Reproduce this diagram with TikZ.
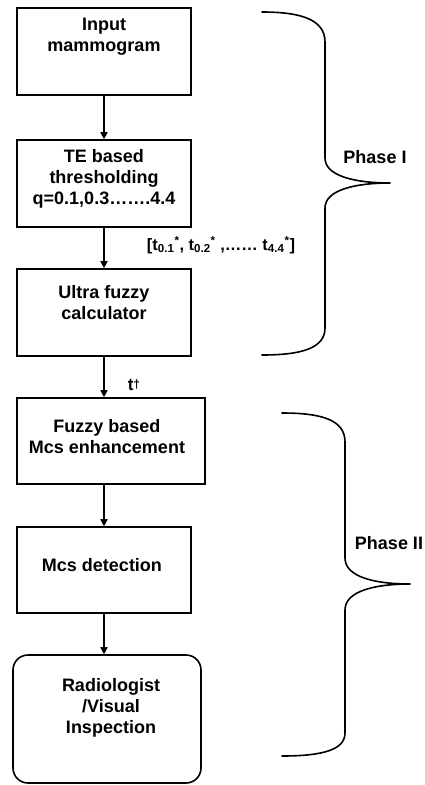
\documentclass[tikz,border=0pt]{standalone}
\usepackage{fontspec}
\setmainfont{Liberation Sans}
\usetikzlibrary{arrows.meta}
\begin{document}
\begin{tikzpicture}[x=1pt,y=-1pt,
  boxshape/.style={draw, line width=1.6pt, minimum width=#1, inner sep=0pt},
  txt/.style={font=\fontsize{18}{21}\selectfont\bfseries, align=center, inner sep=0pt},
  flow/.style={line width=1.6pt, -{Triangle[length=7pt,width=7pt]}},
  bracepath/.style={line width=1.6pt, line cap=round, line join=round}]
\useasboundingbox (0,0) rectangle (424,785);
\fill[white] (0,0) rectangle (424,785);
% boxes
\node[boxshape=174pt, minimum height=87pt] (b1) at (104,51.5) {};
\node[boxshape=174pt, minimum height=87pt] (b2) at (104,183.5) {};
\node[boxshape=174pt, minimum height=87pt] (b3) at (104,312.5) {};
\node[boxshape=188pt, minimum height=86pt] (b4) at (111,441) {};
\node[boxshape=174pt, minimum height=86pt] (b5) at (104,570) {};
\node[boxshape=188pt, minimum height=128pt, rounded corners=15pt] (b6) at (107,719) {};
% texts
\node[txt] (t1) at (104,37) {Input\\mammogram};
\node[txt] (t2) at (104,179) {TE based\\thresholding\\q=0.1,0.3…….4.4};
\node[txt] (t3) at (104,303) {Ultra fuzzy\\calculator};
\node[txt] (t4) at (107,436.5) {Fuzzy based\\Mcs enhancement};
\node[txt] (t5) at (102,565) {Mcs detection};
\node[txt] (t6) at (111,708) {Radiologist\\/Visual\\Inspection};
% arrows
\draw[flow] (b1.south) -- (b2.north);
\draw[flow] (b2.south) -- (b3.north);
\draw[flow] (b3.south) -- (b3.south |- b4.north);
\draw[flow] (b4.south -| b5.north) -- (b5.north);
\draw[flow] (b5.south) -- (b5.south |- b6.north);
% labels
\node[txt, font=\fontsize{16.5}{18}\selectfont\bfseries] (l1) at (221,245) {[t\textsubscript{0.1}\textsuperscript{*}, t\textsubscript{0.2}\textsuperscript{*} ,…… t\textsubscript{4.4}\textsuperscript{*}]};
\node[txt, font=\fontsize{17}{18}\selectfont\bfseries] (l2) at (134,385) {t{\fontsize{12}{12}\selectfont\raisebox{2pt}{†}}};
% braces
\draw[bracepath] (262,12) .. controls (302,12) and (325,20) .. (325,42) -- (325,158)
  .. controls (325,176) and (355,183) .. (390,183)
  .. controls (355,183) and (325,190) .. (325,208) -- (325,328)
  .. controls (325,348) and (302,355) .. (262,355);
\draw[bracepath] (282,413) .. controls (322,413) and (345,420) .. (345,442) -- (345,558)
  .. controls (345,577) and (375,584) .. (410,584)
  .. controls (375,584) and (345,591) .. (345,610) -- (345,733)
  .. controls (345,750) and (322,756) .. (282,756);
\node[txt] (p1) at (375,157) {Phase I};
\node[txt] (p2) at (389,543) {Phase II};
\end{tikzpicture}
\end{document}
